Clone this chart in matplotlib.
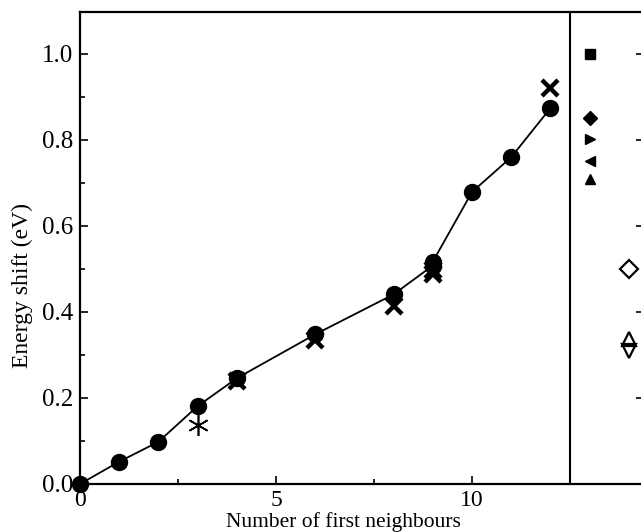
import matplotlib
matplotlib.use("Agg")
import matplotlib.pyplot as plt
from matplotlib.ticker import MultipleLocator

plt.rcParams['font.family'] = ['Liberation Serif', 'DejaVu Serif']

# Main series (circles joined by line)
neigh = [0, 1, 2, 3, 4, 6, 8, 9, 9, 10, 11, 12]
shift = [0.0, 0.052, 0.098, 0.181, 0.246, 0.348, 0.441, 0.508, 0.517, 0.679, 0.760, 0.874]

# Cross markers
cross_x = [4, 6, 8, 9, 9, 12]
cross_y = [0.240, 0.335, 0.415, 0.488, 0.497, 0.920]

# Asterisk marker
star_x = [3]
star_y = [0.137]

# Right panel reference markers
ref_filled = [
    ('s', 13, 1.000),
    ('D', 13, 0.851),
    ('>', 13, 0.802),
    ('<', 13, 0.751),
    ('^', 13, 0.709),
]
ref_open = [
    ('D', 14, 0.500),
    ('^', 14, 0.338),
    ('v', 14, 0.309),
]

W, H = 641, 532
fig = plt.figure(figsize=(W / 100, H / 100), dpi=100)
x0_px, y0_px = 80, 484
px_per_x = 39.2
xmax = 14.4
top_px = 12
ax = fig.add_axes([x0_px / W, (H - y0_px) / H,
                   xmax * px_per_x / W, (y0_px - top_px) / H])

ax.plot(neigh, shift, '-', color='black', lw=1.3, marker='o', ms=11.5,
        mfc='black', mec='black', zorder=3, clip_on=False)
ax.plot(cross_x, cross_y, 'x', color='black', ms=11, mew=3.2, zorder=4)
ax.plot(star_x, star_y, linestyle='none', marker=(6, 2, 0), color='black',
        ms=15, mew=1.2, zorder=4)

for m, x, y in ref_filled:
    ax.plot([x], [y], linestyle='none', marker=m, color='black', ms=7.5,
            mfc='black', mec='black')
for m, x, y in ref_open:
    ax.plot([x], [y], linestyle='none', marker=m, color='black', ms=9.5,
            mfc='none', mec='black', mew=1.6)

ax.axvline(12.5, color='black', lw=1.5)

ax.set_xlim(0, xmax)
ax.set_ylim(0, (y0_px - top_px) / 430)

ax.xaxis.set_major_locator(MultipleLocator(5))
ax.xaxis.set_minor_locator(MultipleLocator(2.5))
ax.yaxis.set_major_locator(MultipleLocator(0.2))
ax.yaxis.set_minor_locator(MultipleLocator(0.1))
ax.yaxis.set_major_formatter(plt.FormatStrFormatter('%.1f'))

ax.tick_params(which='both', direction='in', top=False, right=True, width=1.2)
ax.tick_params(which='minor', right=False)
ax.tick_params(axis='y', labelsize=18, pad=5)
ax.tick_params(axis='x', labelsize=17, pad=4)
ax.tick_params(which='major', length=6)
ax.tick_params(which='minor', length=3.5)
for s in ax.spines.values():
    s.set_linewidth(1.6)

fig.text(343 / W, 1 - 522 / H, 'Number of first neighbours', fontsize=15.5,
         ha='center', va='center')
fig.text(22 / W, 1 - 286 / H, 'Energy shift (eV)', fontsize=17,
         ha='center', va='center', rotation=90)

fig.savefig('out.png', dpi=100)
